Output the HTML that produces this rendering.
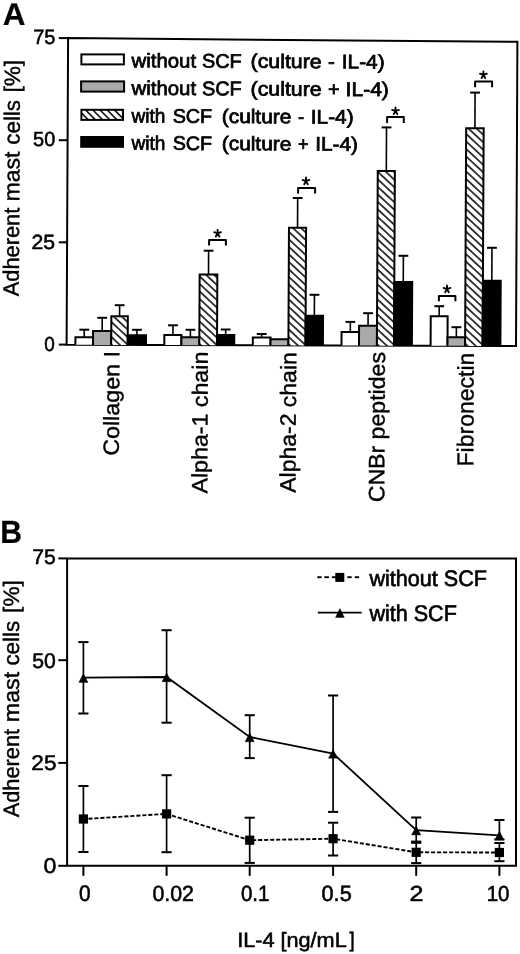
<!DOCTYPE html>
<html><head><meta charset="utf-8"><style>
html,body{margin:0;padding:0;background:#fff;}
body{width:520px;height:954px;overflow:hidden;}
svg{display:block;filter:grayscale(1);}
text{font-family:"Liberation Sans", sans-serif;fill:#000;text-rendering:geometricPrecision;}
</style></head><body>
<svg width="520" height="954" viewBox="0 0 520 954">
<defs>
<pattern id="hatch" patternUnits="userSpaceOnUse" width="6" height="5.5" patternTransform="rotate(43) translate(0 2.75)">
<rect width="6" height="5.5" fill="#fff"/>
<line x1="-1" y1="2.75" x2="7" y2="2.75" stroke="#000" stroke-width="1.5"/>
</pattern>
<pattern id="hatch2" patternUnits="userSpaceOnUse" width="6" height="5.1" patternTransform="translate(81 109) rotate(45)">
<rect width="6" height="5.1" fill="#fff"/>
<line x1="-1" y1="2.55" x2="7" y2="2.55" stroke="#000" stroke-width="1.5"/>
</pattern>
</defs>
<rect width="520" height="954" fill="#fff"/>
<path d="M68.1 38.1 L517.4 41.8 L516.0 346.0 L66.6 344.8 Z" fill="none" stroke="#000" stroke-width="2.0"/>
<line x1="58.80" y1="38.10" x2="68.10" y2="38.10" stroke="#000" stroke-width="2.0" />
<line x1="58.80" y1="140.20" x2="67.60" y2="140.20" stroke="#000" stroke-width="2.0" />
<line x1="58.80" y1="242.30" x2="67.10" y2="242.30" stroke="#000" stroke-width="2.0" />
<line x1="58.80" y1="344.60" x2="66.60" y2="344.60" stroke="#000" stroke-width="2.0" />
<text x="33.20" y="43.90" font-size="20.72" font-weight="normal" textLength="22.36" lengthAdjust="spacingAndGlyphs" stroke="#000" stroke-width="0.55">75</text>
<text x="33.10" y="146.10" font-size="20.29" font-weight="normal" textLength="22.14" lengthAdjust="spacingAndGlyphs" stroke="#000" stroke-width="0.55">50</text>
<text x="31.44" y="248.80" font-size="20.57" font-weight="normal" textLength="23.56" lengthAdjust="spacingAndGlyphs" stroke="#000" stroke-width="0.55">25</text>
<text x="44.24" y="350.60" font-size="20.29" font-weight="normal" textLength="10.54" lengthAdjust="spacingAndGlyphs" stroke="#000" stroke-width="0.55">0</text>
<text x="18.80" y="296.21" font-size="22.32" textLength="88.50" lengthAdjust="spacingAndGlyphs" transform="rotate(-89.700 18.80 296.21)" stroke="#000" stroke-width="0.4">Adherent</text>
<text x="19.31" y="201.40" font-size="22.32" textLength="49.86" lengthAdjust="spacingAndGlyphs" transform="rotate(-89.700 19.31 201.40)" stroke="#000" stroke-width="0.4">mast</text>
<text x="19.60" y="144.71" font-size="22.32" textLength="44.70" lengthAdjust="spacingAndGlyphs" transform="rotate(-89.700 19.60 144.71)" stroke="#000" stroke-width="0.4">cells</text>
<text x="19.88" y="92.48" font-size="22.32" textLength="32.56" lengthAdjust="spacingAndGlyphs" transform="rotate(-89.700 19.88 92.48)" stroke="#000" stroke-width="0.4">[%]</text>
<text x="2.71" y="25.00" font-size="31.45" font-weight="bold" textLength="22.74" lengthAdjust="spacingAndGlyphs" stroke="#000" stroke-width="0.2">A</text>
<rect x="81.40" y="54.40" width="42.50" height="10.00" fill="#fff" stroke="#000" stroke-width="2.0"/>
<rect x="81.10" y="81.40" width="43.00" height="10.20" fill="#aaaaaa" stroke="#000" stroke-width="2.0"/>
<rect x="81.40" y="109.80" width="41.60" height="10.10" fill="url(#hatch2)" stroke="#000" stroke-width="2.0"/>
<rect x="81.20" y="137.00" width="41.80" height="9.80" fill="#000" stroke="#000" stroke-width="2.0"/>
<text x="131.60" y="67.20" font-size="19.63" textLength="64.47" lengthAdjust="spacingAndGlyphs" stroke="#000" stroke-width="0.75" transform="rotate(0.3 131.60 67.20)">without</text>
<text x="202.01" y="67.58" font-size="19.63" textLength="39.69" lengthAdjust="spacingAndGlyphs" stroke="#000" stroke-width="0.75" transform="rotate(0.3 202.01 67.58)">SCF</text>
<text x="250.62" y="67.83" font-size="19.63" textLength="71.03" lengthAdjust="spacingAndGlyphs" stroke="#000" stroke-width="0.75" transform="rotate(0.3 250.62 67.83)">(culture</text>
<text x="328.08" y="68.24" font-size="19.63" textLength="6.80" lengthAdjust="spacingAndGlyphs" stroke="#000" stroke-width="0.75" transform="rotate(0.3 328.08 68.24)">-</text>
<text x="341.83" y="68.31" font-size="19.63" textLength="42.74" lengthAdjust="spacingAndGlyphs" stroke="#000" stroke-width="0.75" transform="rotate(0.3 341.83 68.31)">IL-4)</text>
<text x="131.60" y="94.80" font-size="19.77" textLength="64.47" lengthAdjust="spacingAndGlyphs" stroke="#000" stroke-width="0.75" transform="rotate(0.3 131.60 94.80)">without</text>
<text x="202.01" y="95.18" font-size="19.77" textLength="39.69" lengthAdjust="spacingAndGlyphs" stroke="#000" stroke-width="0.75" transform="rotate(0.3 202.01 95.18)">SCF</text>
<text x="250.62" y="95.43" font-size="19.77" textLength="71.03" lengthAdjust="spacingAndGlyphs" stroke="#000" stroke-width="0.75" transform="rotate(0.3 250.62 95.43)">(culture</text>
<text x="328.01" y="95.84" font-size="19.77" textLength="11.56" lengthAdjust="spacingAndGlyphs" stroke="#000" stroke-width="0.75" transform="rotate(0.3 328.01 95.84)">+</text>
<text x="345.61" y="95.93" font-size="19.77" textLength="43.28" lengthAdjust="spacingAndGlyphs" stroke="#000" stroke-width="0.75" transform="rotate(0.3 345.61 95.93)">IL-4)</text>
<text x="131.60" y="122.50" font-size="19.63" textLength="33.80" lengthAdjust="spacingAndGlyphs" stroke="#000" stroke-width="0.75" transform="rotate(0.3 131.60 122.50)">with</text>
<text x="172.71" y="122.72" font-size="19.63" textLength="39.37" lengthAdjust="spacingAndGlyphs" stroke="#000" stroke-width="0.75" transform="rotate(0.3 172.71 122.72)">SCF</text>
<text x="221.75" y="122.98" font-size="19.63" textLength="69.58" lengthAdjust="spacingAndGlyphs" stroke="#000" stroke-width="0.75" transform="rotate(0.3 221.75 122.98)">(culture</text>
<text x="298.07" y="123.38" font-size="19.63" textLength="6.12" lengthAdjust="spacingAndGlyphs" stroke="#000" stroke-width="0.75" transform="rotate(0.3 298.07 123.38)">-</text>
<text x="310.83" y="123.45" font-size="19.63" textLength="42.74" lengthAdjust="spacingAndGlyphs" stroke="#000" stroke-width="0.75" transform="rotate(0.3 310.83 123.45)">IL-4)</text>
<text x="131.60" y="149.60" font-size="19.49" textLength="33.80" lengthAdjust="spacingAndGlyphs" stroke="#000" stroke-width="0.75" transform="rotate(0.3 131.60 149.60)">with</text>
<text x="172.71" y="149.82" font-size="19.49" textLength="39.37" lengthAdjust="spacingAndGlyphs" stroke="#000" stroke-width="0.75" transform="rotate(0.3 172.71 149.82)">SCF</text>
<text x="221.75" y="150.08" font-size="19.49" textLength="69.58" lengthAdjust="spacingAndGlyphs" stroke="#000" stroke-width="0.75" transform="rotate(0.3 221.75 150.08)">(culture</text>
<text x="298.00" y="150.48" font-size="19.49" textLength="10.48" lengthAdjust="spacingAndGlyphs" stroke="#000" stroke-width="0.75" transform="rotate(0.3 298.00 150.48)">+</text>
<text x="315.23" y="150.57" font-size="19.49" textLength="42.74" lengthAdjust="spacingAndGlyphs" stroke="#000" stroke-width="0.75" transform="rotate(0.3 315.23 150.57)">IL-4)</text>
<line x1="84.27" y1="329.70" x2="84.24" y2="337.20" stroke="#000" stroke-width="1.6" />
<line x1="79.37" y1="329.70" x2="89.17" y2="329.70" stroke="#000" stroke-width="2.0" />
<path d="M75.40 344.85 L75.44 337.20 L93.04 337.20 L93.00 344.85" fill="#fff" stroke="#000" stroke-width="2.0" stroke-linejoin="miter"/>
<line x1="102.23" y1="317.80" x2="102.17" y2="330.90" stroke="#000" stroke-width="1.6" />
<line x1="97.33" y1="317.80" x2="107.13" y2="317.80" stroke="#000" stroke-width="2.0" />
<path d="M93.00 344.89 L93.07 330.90 L111.27 330.90 L111.20 344.89" fill="#aaaaaa" stroke="#000" stroke-width="2.0" stroke-linejoin="miter"/>
<line x1="119.64" y1="305.20" x2="119.59" y2="316.20" stroke="#000" stroke-width="1.6" />
<line x1="114.74" y1="305.20" x2="124.54" y2="305.20" stroke="#000" stroke-width="2.0" />
<path d="M111.20 344.94 L111.34 316.20 L127.84 316.20 L127.70 344.94" fill="url(#hatch)" stroke="#000" stroke-width="2.0" stroke-linejoin="miter"/>
<line x1="136.92" y1="329.80" x2="136.90" y2="335.30" stroke="#000" stroke-width="1.6" />
<line x1="132.02" y1="329.80" x2="141.82" y2="329.80" stroke="#000" stroke-width="2.0" />
<path d="M127.70 344.99 L127.75 335.30 L146.05 335.30 L146.00 344.99" fill="#000" stroke="#000" stroke-width="2.0" stroke-linejoin="miter"/>
<line x1="172.95" y1="325.30" x2="172.90" y2="335.00" stroke="#000" stroke-width="1.6" />
<line x1="168.05" y1="325.30" x2="177.85" y2="325.30" stroke="#000" stroke-width="2.0" />
<path d="M164.30 345.08 L164.35 335.00 L181.45 335.00 L181.40 345.08" fill="#fff" stroke="#000" stroke-width="2.0" stroke-linejoin="miter"/>
<line x1="190.43" y1="329.80" x2="190.39" y2="337.20" stroke="#000" stroke-width="1.6" />
<line x1="185.53" y1="329.80" x2="195.33" y2="329.80" stroke="#000" stroke-width="2.0" />
<path d="M181.40 345.13 L181.44 337.20 L199.34 337.20 L199.30 345.13" fill="#aaaaaa" stroke="#000" stroke-width="2.0" stroke-linejoin="miter"/>
<line x1="208.61" y1="250.70" x2="208.50" y2="274.40" stroke="#000" stroke-width="1.6" />
<line x1="203.71" y1="250.70" x2="213.51" y2="250.70" stroke="#000" stroke-width="2.0" />
<path d="M199.30 345.18 L199.65 274.40 L217.35 274.40 L217.00 345.18" fill="url(#hatch)" stroke="#000" stroke-width="2.0" stroke-linejoin="miter"/>
<line x1="225.68" y1="329.50" x2="225.65" y2="335.10" stroke="#000" stroke-width="1.6" />
<line x1="220.78" y1="329.50" x2="230.58" y2="329.50" stroke="#000" stroke-width="2.0" />
<path d="M217.00 345.22 L217.05 335.10 L234.25 335.10 L234.20 345.22" fill="#000" stroke="#000" stroke-width="2.0" stroke-linejoin="miter"/>
<line x1="261.71" y1="334.00" x2="261.69" y2="337.40" stroke="#000" stroke-width="1.6" />
<line x1="256.81" y1="334.00" x2="266.61" y2="334.00" stroke="#000" stroke-width="2.0" />
<path d="M252.80 345.32 L252.84 337.40 L270.54 337.40 L270.50 345.32" fill="#fff" stroke="#000" stroke-width="2.0" stroke-linejoin="miter"/>
<path d="M270.50 345.37 L270.53 339.20 L288.43 339.20 L288.40 345.37" fill="#aaaaaa" stroke="#000" stroke-width="2.0" stroke-linejoin="miter"/>
<line x1="297.67" y1="198.00" x2="297.53" y2="227.80" stroke="#000" stroke-width="1.6" />
<line x1="292.77" y1="198.00" x2="302.57" y2="198.00" stroke="#000" stroke-width="2.0" />
<path d="M288.40 345.42 L288.98 227.80 L306.08 227.80 L305.50 345.42" fill="url(#hatch)" stroke="#000" stroke-width="2.0" stroke-linejoin="miter"/>
<line x1="314.45" y1="294.80" x2="314.35" y2="315.70" stroke="#000" stroke-width="1.6" />
<line x1="309.55" y1="294.80" x2="319.35" y2="294.80" stroke="#000" stroke-width="2.0" />
<path d="M305.50 345.46 L305.65 315.70 L323.05 315.70 L322.90 345.46" fill="#000" stroke="#000" stroke-width="2.0" stroke-linejoin="miter"/>
<line x1="350.37" y1="321.90" x2="350.32" y2="332.00" stroke="#000" stroke-width="1.6" />
<line x1="345.47" y1="321.90" x2="355.27" y2="321.90" stroke="#000" stroke-width="2.0" />
<path d="M341.50 345.56 L341.57 332.00 L359.07 332.00 L359.00 345.56" fill="#fff" stroke="#000" stroke-width="2.0" stroke-linejoin="miter"/>
<line x1="368.11" y1="313.20" x2="368.05" y2="325.70" stroke="#000" stroke-width="1.6" />
<line x1="363.21" y1="313.20" x2="373.01" y2="313.20" stroke="#000" stroke-width="2.0" />
<path d="M359.00 345.60 L359.10 325.70 L377.00 325.70 L376.90 345.60" fill="#aaaaaa" stroke="#000" stroke-width="2.0" stroke-linejoin="miter"/>
<line x1="386.52" y1="127.40" x2="386.31" y2="171.00" stroke="#000" stroke-width="1.6" />
<line x1="381.62" y1="127.40" x2="391.42" y2="127.40" stroke="#000" stroke-width="2.0" />
<path d="M376.90 345.65 L377.76 171.00 L394.86 171.00 L394.00 345.65" fill="url(#hatch)" stroke="#000" stroke-width="2.0" stroke-linejoin="miter"/>
<line x1="403.39" y1="255.80" x2="403.26" y2="282.10" stroke="#000" stroke-width="1.6" />
<line x1="398.49" y1="255.80" x2="408.29" y2="255.80" stroke="#000" stroke-width="2.0" />
<path d="M394.00 345.70 L394.31 282.10 L412.21 282.10 L411.90 345.70" fill="#000" stroke="#000" stroke-width="2.0" stroke-linejoin="miter"/>
<line x1="439.24" y1="306.20" x2="439.19" y2="316.30" stroke="#000" stroke-width="1.6" />
<line x1="434.34" y1="306.20" x2="444.14" y2="306.20" stroke="#000" stroke-width="2.0" />
<path d="M430.60 345.79 L430.74 316.30 L447.64 316.30 L447.50 345.79" fill="#fff" stroke="#000" stroke-width="2.0" stroke-linejoin="miter"/>
<line x1="456.39" y1="327.20" x2="456.34" y2="337.30" stroke="#000" stroke-width="1.6" />
<line x1="451.49" y1="327.20" x2="461.29" y2="327.20" stroke="#000" stroke-width="2.0" />
<path d="M447.50 345.84 L447.54 337.30 L465.14 337.30 L465.10 345.84" fill="#aaaaaa" stroke="#000" stroke-width="2.0" stroke-linejoin="miter"/>
<line x1="475.09" y1="92.60" x2="474.92" y2="128.20" stroke="#000" stroke-width="1.6" />
<line x1="470.19" y1="92.60" x2="479.99" y2="92.60" stroke="#000" stroke-width="2.0" />
<path d="M465.10 345.89 L466.17 128.20 L483.67 128.20 L482.60 345.89" fill="url(#hatch)" stroke="#000" stroke-width="2.0" stroke-linejoin="miter"/>
<line x1="491.98" y1="247.80" x2="491.82" y2="280.80" stroke="#000" stroke-width="1.6" />
<line x1="487.08" y1="247.80" x2="496.88" y2="247.80" stroke="#000" stroke-width="2.0" />
<path d="M482.60 345.93 L482.92 280.80 L500.72 280.80 L500.40 345.93" fill="#000" stroke="#000" stroke-width="2.0" stroke-linejoin="miter"/>
<path d="M209.10 245.40 L209.10 240.00 L225.90 240.00 L225.90 245.40" fill="none" stroke="#000" stroke-width="2.0" stroke-linejoin="round"/>
<path d="M217.60 233.40L217.60 229.80M217.60 233.40L221.00 232.23M217.60 233.40L219.40 236.52M217.60 233.40L215.80 236.52M217.60 233.40L214.20 232.23" stroke="#000" stroke-width="1.85" stroke-linecap="round" fill="none"/>
<path d="M298.10 193.60 L298.10 187.90 L315.10 187.90 L315.10 193.60" fill="none" stroke="#000" stroke-width="2.0" stroke-linejoin="round"/>
<path d="M306.00 181.10L306.00 177.50M306.00 181.10L309.40 179.93M306.00 181.10L307.80 184.22M306.00 181.10L304.20 184.22M306.00 181.10L302.60 179.93" stroke="#000" stroke-width="1.85" stroke-linecap="round" fill="none"/>
<path d="M387.10 123.00 L387.10 117.10 L403.80 117.10 L403.80 123.00" fill="none" stroke="#000" stroke-width="2.0" stroke-linejoin="round"/>
<path d="M395.50 111.00L395.50 107.40M395.50 111.00L398.90 109.83M395.50 111.00L397.30 114.12M395.50 111.00L393.70 114.12M395.50 111.00L392.10 109.83" stroke="#000" stroke-width="1.85" stroke-linecap="round" fill="none"/>
<path d="M475.10 87.30 L475.10 81.60 L492.10 81.60 L492.10 87.30" fill="none" stroke="#000" stroke-width="2.0" stroke-linejoin="round"/>
<path d="M483.40 74.90L483.40 71.30M483.40 74.90L486.80 73.73M483.40 74.90L485.20 78.02M483.40 74.90L481.60 78.02M483.40 74.90L480.00 73.73" stroke="#000" stroke-width="1.85" stroke-linecap="round" fill="none"/>
<path d="M438.90 301.30 L438.90 295.90 L455.40 295.90 L455.40 301.30" fill="none" stroke="#000" stroke-width="2.0" stroke-linejoin="round"/>
<path d="M447.00 289.10L447.00 285.50M447.00 289.10L450.40 287.93M447.00 289.10L448.80 292.22M447.00 289.10L445.20 292.22M447.00 289.10L443.60 287.93" stroke="#000" stroke-width="1.85" stroke-linecap="round" fill="none"/>
<text x="118.80" y="455.86" font-size="22.00" font-weight="normal" textLength="104.83" lengthAdjust="spacingAndGlyphs" transform="rotate(-89.700 118.80 455.86)" stroke="#000" stroke-width="0.4">Collagen I</text>
<text x="207.20" y="493.52" font-size="22.17" font-weight="normal" textLength="141.83" lengthAdjust="spacingAndGlyphs" transform="rotate(-89.700 207.20 493.52)" stroke="#000" stroke-width="0.4">Alpha-1 chain</text>
<text x="295.50" y="492.81" font-size="22.32" font-weight="normal" textLength="140.62" lengthAdjust="spacingAndGlyphs" transform="rotate(-89.700 295.50 492.81)" stroke="#000" stroke-width="0.4">Alpha-2 chain</text>
<text x="384.20" y="502.25" font-size="22.29" font-weight="normal" textLength="150.22" lengthAdjust="spacingAndGlyphs" transform="rotate(-89.700 384.20 502.25)" stroke="#000" stroke-width="0.4">CNBr peptides</text>
<text x="473.20" y="466.44" font-size="22.90" font-weight="normal" textLength="113.78" lengthAdjust="spacingAndGlyphs" transform="rotate(-89.700 473.20 466.44)" stroke="#000" stroke-width="0.4">Fibronectin</text>
<path d="M67.1 558.4 L516.0 558.4 L516.0 865.8 L67.1 865.8 Z" fill="none" stroke="#000" stroke-width="2.0"/>
<line x1="58.30" y1="558.40" x2="67.10" y2="558.40" stroke="#000" stroke-width="2.0" />
<line x1="58.30" y1="660.20" x2="67.10" y2="660.20" stroke="#000" stroke-width="2.0" />
<line x1="58.30" y1="762.90" x2="67.10" y2="762.90" stroke="#000" stroke-width="2.0" />
<line x1="58.30" y1="865.80" x2="67.10" y2="865.80" stroke="#000" stroke-width="2.0" />
<text x="32.34" y="564.20" font-size="21.16" font-weight="normal" textLength="23.56" lengthAdjust="spacingAndGlyphs" stroke="#000" stroke-width="0.55">75</text>
<text x="32.35" y="667.80" font-size="21.14" font-weight="normal" textLength="23.54" lengthAdjust="spacingAndGlyphs" stroke="#000" stroke-width="0.55">50</text>
<text x="31.37" y="770.00" font-size="21.14" font-weight="normal" textLength="25.08" lengthAdjust="spacingAndGlyphs" stroke="#000" stroke-width="0.55">25</text>
<text x="43.57" y="872.90" font-size="21.29" font-weight="normal" textLength="12.88" lengthAdjust="spacingAndGlyphs" stroke="#000" stroke-width="0.55">0</text>
<text x="18.80" y="817.31" font-size="22.32" textLength="88.40" lengthAdjust="spacingAndGlyphs" transform="rotate(-90.000 18.80 817.31)" stroke="#000" stroke-width="0.4">Adherent</text>
<text x="18.80" y="722.21" font-size="22.32" textLength="50.37" lengthAdjust="spacingAndGlyphs" transform="rotate(-90.000 18.80 722.21)" stroke="#000" stroke-width="0.4">mast</text>
<text x="18.80" y="665.61" font-size="22.32" textLength="44.70" lengthAdjust="spacingAndGlyphs" transform="rotate(-90.000 18.80 665.61)" stroke="#000" stroke-width="0.4">cells</text>
<text x="18.80" y="612.88" font-size="22.32" textLength="32.67" lengthAdjust="spacingAndGlyphs" transform="rotate(-90.000 18.80 612.88)" stroke="#000" stroke-width="0.4">[%]</text>
<text x="0.14" y="543.10" font-size="32.17" font-weight="bold" textLength="21.78" lengthAdjust="spacingAndGlyphs" stroke="#000" stroke-width="0.2">B</text>
<line x1="83.40" y1="865.80" x2="83.40" y2="875.80" stroke="#000" stroke-width="2.0" />
<line x1="166.60" y1="865.80" x2="166.60" y2="875.80" stroke="#000" stroke-width="2.0" />
<line x1="249.70" y1="865.80" x2="249.70" y2="875.80" stroke="#000" stroke-width="2.0" />
<line x1="333.10" y1="865.80" x2="333.10" y2="875.80" stroke="#000" stroke-width="2.0" />
<line x1="416.20" y1="865.80" x2="416.20" y2="875.80" stroke="#000" stroke-width="2.0" />
<line x1="499.40" y1="865.80" x2="499.40" y2="875.80" stroke="#000" stroke-width="2.0" />
<text x="79.07" y="900.80" font-size="22.57" font-weight="normal" textLength="11.59" lengthAdjust="spacingAndGlyphs" stroke="#000" stroke-width="0.55">0</text>
<text x="152.45" y="900.70" font-size="21.86" font-weight="normal" textLength="41.55" lengthAdjust="spacingAndGlyphs" stroke="#000" stroke-width="0.55">0.02</text>
<text x="240.88" y="900.80" font-size="22.00" font-weight="normal" textLength="28.55" lengthAdjust="spacingAndGlyphs" stroke="#000" stroke-width="0.55">0.1</text>
<text x="321.53" y="900.80" font-size="22.00" font-weight="normal" textLength="30.24" lengthAdjust="spacingAndGlyphs" stroke="#000" stroke-width="0.55">0.5</text>
<text x="409.55" y="900.60" font-size="21.71" font-weight="normal" textLength="13.93" lengthAdjust="spacingAndGlyphs" stroke="#000" stroke-width="0.55">2</text>
<text x="486.66" y="900.60" font-size="21.71" font-weight="normal" textLength="22.81" lengthAdjust="spacingAndGlyphs" stroke="#000" stroke-width="0.55">10</text>
<text x="237.15" y="946.90" font-size="20.58" font-weight="normal" textLength="109.57" lengthAdjust="spacingAndGlyphs" stroke="#000" stroke-width="0.55">IL-4 [ng/mL</text>
<text x="349.62" y="946.90" font-size="20.97" font-weight="normal" textLength="5.13" lengthAdjust="spacingAndGlyphs" stroke="#000" stroke-width="0.55">]</text>
<line x1="83.40" y1="642.10" x2="83.40" y2="713.50" stroke="#000" stroke-width="1.7" />
<line x1="78.30" y1="642.10" x2="88.50" y2="642.10" stroke="#000" stroke-width="2" />
<line x1="78.30" y1="713.50" x2="88.50" y2="713.50" stroke="#000" stroke-width="2" />
<line x1="166.60" y1="630.20" x2="166.60" y2="722.70" stroke="#000" stroke-width="1.7" />
<line x1="161.50" y1="630.20" x2="171.70" y2="630.20" stroke="#000" stroke-width="2" />
<line x1="161.50" y1="722.70" x2="171.70" y2="722.70" stroke="#000" stroke-width="2" />
<line x1="249.70" y1="715.20" x2="249.70" y2="758.10" stroke="#000" stroke-width="1.7" />
<line x1="244.60" y1="715.20" x2="254.80" y2="715.20" stroke="#000" stroke-width="2" />
<line x1="244.60" y1="758.10" x2="254.80" y2="758.10" stroke="#000" stroke-width="2" />
<line x1="333.10" y1="695.50" x2="333.10" y2="811.90" stroke="#000" stroke-width="1.7" />
<line x1="328.00" y1="695.50" x2="338.20" y2="695.50" stroke="#000" stroke-width="2" />
<line x1="328.00" y1="811.90" x2="338.20" y2="811.90" stroke="#000" stroke-width="2" />
<line x1="416.20" y1="817.50" x2="416.20" y2="841.60" stroke="#000" stroke-width="1.7" />
<line x1="411.10" y1="817.50" x2="421.30" y2="817.50" stroke="#000" stroke-width="2" />
<line x1="411.10" y1="841.60" x2="421.30" y2="841.60" stroke="#000" stroke-width="2" />
<line x1="499.40" y1="820.00" x2="499.40" y2="839.50" stroke="#000" stroke-width="1.7" />
<line x1="494.30" y1="820.00" x2="504.50" y2="820.00" stroke="#000" stroke-width="2" />
<line x1="494.30" y1="839.50" x2="504.50" y2="839.50" stroke="#000" stroke-width="2" />
<line x1="83.40" y1="786.00" x2="83.40" y2="852.00" stroke="#000" stroke-width="1.7" />
<line x1="78.30" y1="786.00" x2="88.50" y2="786.00" stroke="#000" stroke-width="2" />
<line x1="78.30" y1="852.00" x2="88.50" y2="852.00" stroke="#000" stroke-width="2" />
<line x1="166.60" y1="775.20" x2="166.60" y2="852.20" stroke="#000" stroke-width="1.7" />
<line x1="161.50" y1="775.20" x2="171.70" y2="775.20" stroke="#000" stroke-width="2" />
<line x1="161.50" y1="852.20" x2="171.70" y2="852.20" stroke="#000" stroke-width="2" />
<line x1="249.70" y1="817.70" x2="249.70" y2="862.90" stroke="#000" stroke-width="1.7" />
<line x1="244.60" y1="817.70" x2="254.80" y2="817.70" stroke="#000" stroke-width="2" />
<line x1="244.60" y1="862.90" x2="254.80" y2="862.90" stroke="#000" stroke-width="2" />
<line x1="333.10" y1="822.70" x2="333.10" y2="855.50" stroke="#000" stroke-width="1.7" />
<line x1="328.00" y1="822.70" x2="338.20" y2="822.70" stroke="#000" stroke-width="2" />
<line x1="328.00" y1="855.50" x2="338.20" y2="855.50" stroke="#000" stroke-width="2" />
<line x1="416.20" y1="842.80" x2="416.20" y2="863.10" stroke="#000" stroke-width="1.7" />
<line x1="411.10" y1="842.80" x2="421.30" y2="842.80" stroke="#000" stroke-width="2" />
<line x1="411.10" y1="863.10" x2="421.30" y2="863.10" stroke="#000" stroke-width="2" />
<line x1="499.40" y1="843.00" x2="499.40" y2="861.20" stroke="#000" stroke-width="1.7" />
<line x1="494.30" y1="843.00" x2="504.50" y2="843.00" stroke="#000" stroke-width="2" />
<line x1="494.30" y1="861.20" x2="504.50" y2="861.20" stroke="#000" stroke-width="2" />
<polyline points="83.4,677.7 166.6,677.0 249.7,737.0 333.1,753.5 416.2,830.2 499.4,835.3" fill="none" stroke="#000" stroke-width="1.8"/>
<polyline points="83.4,819.0 166.6,813.9 249.7,840.2 333.1,838.7 416.2,852.3 499.4,852.5" fill="none" stroke="#000" stroke-width="1.9" stroke-dasharray="4.1 1.9" stroke-dashoffset="1"/>
<path d="M83.4 673.60 L88.00 682.40 L78.80 682.40 Z" fill="#000" stroke="#000" stroke-width="0.4" stroke-linejoin="round"/>
<path d="M166.6 672.90 L171.20 681.70 L162.00 681.70 Z" fill="#000" stroke="#000" stroke-width="0.4" stroke-linejoin="round"/>
<path d="M249.7 732.90 L254.30 741.70 L245.10 741.70 Z" fill="#000" stroke="#000" stroke-width="0.4" stroke-linejoin="round"/>
<path d="M333.1 749.40 L337.70 758.20 L328.50 758.20 Z" fill="#000" stroke="#000" stroke-width="0.4" stroke-linejoin="round"/>
<path d="M416.2 826.10 L420.80 834.90 L411.60 834.90 Z" fill="#000" stroke="#000" stroke-width="0.4" stroke-linejoin="round"/>
<path d="M499.4 831.20 L504.00 840.00 L494.80 840.00 Z" fill="#000" stroke="#000" stroke-width="0.4" stroke-linejoin="round"/>
<rect x="78.80" y="814.40" width="9.2" height="9.2" fill="#000"/>
<rect x="162.00" y="809.30" width="9.2" height="9.2" fill="#000"/>
<rect x="245.10" y="835.60" width="9.2" height="9.2" fill="#000"/>
<rect x="328.50" y="834.10" width="9.2" height="9.2" fill="#000"/>
<rect x="411.60" y="847.70" width="9.2" height="9.2" fill="#000"/>
<rect x="494.80" y="847.90" width="9.2" height="9.2" fill="#000"/>
<line x1="317.30" y1="577.20" x2="321.60" y2="577.20" stroke="#000" stroke-width="1.9" />
<line x1="324.30" y1="577.20" x2="328.90" y2="577.20" stroke="#000" stroke-width="1.9" />
<line x1="331.80" y1="577.20" x2="336.00" y2="577.20" stroke="#000" stroke-width="1.9" />
<line x1="347.30" y1="577.20" x2="351.70" y2="577.20" stroke="#000" stroke-width="1.9" />
<line x1="354.80" y1="577.20" x2="359.10" y2="577.20" stroke="#000" stroke-width="1.9" />
<rect x="335.30" y="572.90" width="9.0" height="9.0" fill="#000"/>
<line x1="317.80" y1="612.70" x2="361.70" y2="612.70" stroke="#000" stroke-width="1.8" />
<path d="M339.9 608.50 L344.30 617.50 L335.50 617.50 Z" fill="#000" stroke="#000" stroke-width="0.4" stroke-linejoin="round"/>
<text x="369.40" y="585.70" font-size="22.46" font-weight="normal" textLength="117.59" lengthAdjust="spacingAndGlyphs" stroke="#000" stroke-width="0.65">without SCF</text>
<text x="369.40" y="620.60" font-size="22.61" font-weight="normal" textLength="87.49" lengthAdjust="spacingAndGlyphs" stroke="#000" stroke-width="0.65">with SCF</text>
</svg>
</body></html>
